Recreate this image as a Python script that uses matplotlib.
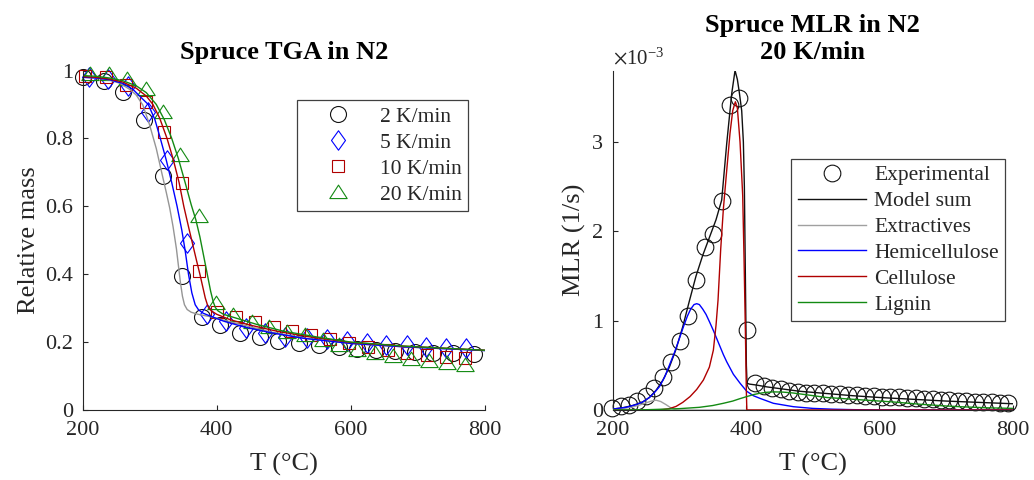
import matplotlib
matplotlib.use('Agg')
import matplotlib.pyplot as plt
from matplotlib.path import Path

plt.rcParams['font.family'] = ['Liberation Serif', 'DejaVu Serif']
plt.rcParams['mathtext.fontset'] = 'stix'

# ---------------- Left panel data: TGA ----------------
rate_labels = ['2 K/min', '5 K/min', '10 K/min', '20 K/min']

# experimental markers
t_2k = [200, 232, 261, 291, 320, 349, 378, 405, 435, 465, 492, 522, 552, 582, 609, 638, 666, 696, 723, 753, 783]
m_2k = [0.982, 0.968, 0.938, 0.855, 0.688, 0.394, 0.274, 0.25, 0.227, 0.214, 0.203, 0.196, 0.191, 0.186,
        0.181, 0.176, 0.174, 0.172, 0.169, 0.167, 0.165]
t_5k = [209, 238, 268, 297, 326, 356, 385, 414, 443, 472, 502, 534, 564, 594, 624, 653, 683, 712, 742, 772]
m_5k = [0.98, 0.975, 0.955, 0.877, 0.735, 0.492, 0.284, 0.262, 0.242, 0.226, 0.215, 0.212, 0.209, 0.202,
        0.197, 0.192, 0.19, 0.187, 0.184, 0.182]
t_10k = [204, 235, 265, 294, 321, 348, 374, 401, 429, 457, 485, 513, 541, 569, 598, 626, 655, 684, 713, 742, 770]
m_10k = [0.985, 0.98, 0.958, 0.906, 0.82, 0.668, 0.41, 0.29, 0.275, 0.26, 0.245, 0.232, 0.22, 0.208, 0.196,
         0.185, 0.176, 0.168, 0.162, 0.157, 0.152]
t_20k = [211, 239, 266, 294, 320, 346, 373, 399, 425, 452, 478, 505, 532, 558, 583, 609, 636, 663, 690, 716, 743, 770]
m_20k = [0.99, 0.99, 0.975, 0.946, 0.877, 0.75, 0.57, 0.315, 0.28, 0.26, 0.245, 0.23, 0.22, 0.205, 0.19,
         0.178, 0.167, 0.158, 0.15, 0.143, 0.137, 0.132]

# model curves
ft_2k = [200, 220, 240, 255, 270, 280, 290, 300, 310, 318, 325, 330, 335, 340, 343, 346, 349, 352, 356, 362,
         372, 390, 410, 440, 480, 530, 600, 680, 800]
fm_2k = [0.98, 0.978, 0.972, 0.963, 0.945, 0.928, 0.898, 0.84, 0.77, 0.70, 0.64, 0.595, 0.54, 0.475, 0.425,
         0.375, 0.335, 0.31, 0.296, 0.288, 0.282, 0.275, 0.265, 0.25, 0.23, 0.212, 0.196, 0.186, 0.175]
ft_5k = [200, 220, 240, 260, 275, 285, 298, 308, 316, 325, 333, 341, 348, 353, 358, 363, 368, 373, 380, 390,
         410, 440, 480, 530, 600, 680, 800]
fm_5k = [0.98, 0.978, 0.973, 0.962, 0.945, 0.925, 0.90, 0.855, 0.80, 0.735, 0.67, 0.60, 0.53, 0.47, 0.40,
         0.345, 0.31, 0.295, 0.285, 0.277, 0.262, 0.245, 0.228, 0.211, 0.196, 0.186, 0.175]
ft_10k = [200, 220, 240, 260, 280, 295, 305, 315, 326, 335, 344, 351, 358, 364, 370, 375, 379, 383, 387, 392,
          400, 420, 450, 490, 540, 600, 680, 800]
fm_10k = [0.982, 0.98, 0.975, 0.966, 0.948, 0.925, 0.90, 0.86, 0.80, 0.74, 0.67, 0.60, 0.54, 0.49, 0.44,
          0.40, 0.365, 0.33, 0.305, 0.292, 0.282, 0.266, 0.25, 0.232, 0.215, 0.199, 0.188, 0.176]
ft_20k = [200, 220, 240, 260, 280, 295, 310, 322, 333, 343, 353, 362, 369, 375, 381, 386, 391, 395, 398, 402,
          410, 430, 460, 500, 550, 600, 680, 800]
fm_20k = [0.985, 0.983, 0.978, 0.97, 0.955, 0.935, 0.90, 0.855, 0.80, 0.74, 0.67, 0.605, 0.56, 0.51, 0.45,
          0.40, 0.35, 0.318, 0.302, 0.292, 0.282, 0.27, 0.252, 0.232, 0.215, 0.2, 0.188, 0.176]

# ---------------- Right panel data: MLR (x 1e-3 1/s) ----------------
t_exp = [199, 211.7, 224.3, 237, 249.6, 262.3, 274.9, 287.6, 300.2, 312.9, 325.5, 338.2, 350.8, 363.5, 376.1,
         388.8, 401.4, 414.1, 426.7, 439.4, 452, 464.7, 477.3, 490, 502.6, 515.3, 527.9, 540.6, 553.2, 565.9,
         578.5, 591.2, 603.8, 616.5, 629.1, 641.8, 654.4, 667.1, 679.7, 692.4, 705, 717.7, 730.3, 743, 755.6,
         768.3, 780.9, 793.6]
mlr_exp = [0.02, 0.04, 0.056, 0.10, 0.16, 0.25, 0.365, 0.54, 0.77, 1.05, 1.45, 1.825, 1.975, 2.34, 3.41, 3.49,
           0.90, 0.30, 0.265, 0.245, 0.23, 0.215, 0.205, 0.195, 0.19, 0.185, 0.18, 0.175, 0.17, 0.165, 0.16,
           0.155, 0.15, 0.145, 0.14, 0.135, 0.13, 0.125, 0.12, 0.115, 0.11, 0.105, 0.10, 0.095, 0.09, 0.085,
           0.08, 0.075]

t_sum = [200, 215, 230, 245, 255, 265, 275, 285, 295, 305, 315, 325, 335, 345, 355, 363.5, 371, 378.5, 383.5,
         387, 390, 393.5, 396, 397.5, 399, 400.5, 401.5, 405, 415, 430, 450, 480, 520, 560, 600, 650, 700, 750, 800]
mlr_sum = [0.01, 0.025, 0.05, 0.09, 0.14, 0.22, 0.33, 0.48, 0.68, 0.93, 1.22, 1.5, 1.73, 1.93, 2.13, 2.35,
           2.98, 3.54, 3.80, 3.7, 3.55, 3.35, 3.0, 2.5, 1.5, 0.5, 0.3, 0.29, 0.28, 0.26, 0.24, 0.21, 0.185,
           0.16, 0.14, 0.12, 0.10, 0.085, 0.07]

t_ext = [200, 215, 230, 240, 250, 258, 265, 272, 280, 287, 293, 300, 800]
mlr_ext = [0.005, 0.015, 0.035, 0.055, 0.08, 0.10, 0.11, 0.095, 0.06, 0.025, 0.005, 0.0, 0.0]

t_hem = [200, 220, 235, 245, 255, 262, 270, 278, 285, 293, 300, 306, 312, 317, 322, 326, 330, 335, 340, 345,
         351, 356, 361, 366, 371, 376, 381, 391, 401, 411, 421, 441, 471, 500, 530, 560, 600, 800]
mlr_hem = [0.01, 0.03, 0.06, 0.09, 0.14, 0.19, 0.26, 0.37, 0.5, 0.65, 0.8, 0.93, 1.05, 1.13, 1.18, 1.19,
           1.18, 1.13, 1.07, 0.99, 0.89, 0.80, 0.71, 0.62, 0.54, 0.47, 0.40, 0.30, 0.21, 0.16, 0.13, 0.075,
           0.037, 0.018, 0.009, 0.004, 0.001, 0.0]

t_cel = [200, 260, 275, 285, 295, 305, 316, 326, 336, 345, 351, 355, 358, 362, 366, 371, 376, 380, 384, 387,
         391, 395, 397, 399, 400.5, 401.2, 450, 800]
mlr_cel = [0.0, 0.0, 0.005, 0.015, 0.04, 0.085, 0.15, 0.23, 0.335, 0.48, 0.67, 0.95, 1.23, 1.8, 2.25, 2.68,
           3.1, 3.35, 3.45, 3.38, 3.0, 2.4, 1.7, 0.9, 0.2, 0.0, 0.0, 0.0]

t_lig = [200, 250, 300, 330, 350, 366, 380, 390, 401, 411, 421, 431, 441, 456, 471, 491, 521, 560, 600, 621,
         660, 700, 721, 760, 800]
mlr_lig = [0.0, 0.003, 0.015, 0.03, 0.05, 0.075, 0.1, 0.125, 0.15, 0.172, 0.188, 0.198, 0.203, 0.2, 0.19,
           0.17, 0.14, 0.12, 0.10, 0.09, 0.065, 0.045, 0.037, 0.025, 0.018]

comp_labels = ['Experimental', 'Model sum', 'Extractives', 'Hemicellulose', 'Cellulose', 'Lignin']

x_ticks = [200, 400, 600, 800]
x_ticklabels = ['200', '400', '600', '800']
y1_ticks = [0, 0.2, 0.4, 0.6, 0.8, 1.0]
y1_ticklabels = ['0', '0.2', '0.4', '0.6', '0.8', '1']
y2_ticks = [0, 1, 2, 3]
y2_ticklabels = ['0', '1', '2', '3']

# ---------------- Styling ----------------
TXT = '#262626'
C_GRAY = '#959595'
C_BLK = '#111111'
C_BLUE = '#0000ff'
C_RED = '#b00000'
C_GREEN = '#138a13'

diamond = Path([(0, 1), (0.72, 0), (0, -1), (-0.72, 0), (0, 1)],
               [Path.MOVETO, Path.LINETO, Path.LINETO, Path.LINETO, Path.CLOSEPOLY])
triangle = Path([(0, 0.85), (1, -0.7), (-1, -0.7), (0, 0.85)],
                [Path.MOVETO, Path.LINETO, Path.LINETO, Path.CLOSEPOLY])

W, H = 1034, 480
fig = plt.figure(figsize=(W / 100, H / 100), dpi=100)
ax1 = fig.add_axes([82.5 / W, 70 / H, 402.5 / W, 339.5 / H])
ax2 = fig.add_axes([612.7 / W, 70 / H, 400 / W, 339.5 / H])


def style_axes(ax):
    for s in ['top', 'right']:
        ax.spines[s].set_visible(False)
    for s in ['left', 'bottom']:
        ax.spines[s].set_color(TXT)
        ax.spines[s].set_linewidth(0.8)
    ax.tick_params(direction='in', length=3.5, width=0.8, colors=TXT, labelsize=16)
    ax.tick_params(axis='x', pad=8)
    ax.tick_params(axis='y', pad=7)


leg_kw = dict(fontsize=15.5, frameon=True, fancybox=False, framealpha=1, edgecolor='#404040',
              borderpad=0.3, labelspacing=0.27, handlelength=3.2, handletextpad=0.35,
              borderaxespad=0, numpoints=1)

# ---- left ----
mk = dict(linestyle='none', markerfacecolor='none', markeredgewidth=0.8, clip_on=False)
h1, = ax1.plot(t_2k, m_2k, marker='o', markersize=11.5, markeredgecolor=C_BLK, **mk)
h2, = ax1.plot(t_5k, m_5k, marker=diamond, markersize=14, markeredgecolor=C_BLUE, **mk)
h3, = ax1.plot(t_10k, m_10k, marker='s', markersize=9, markeredgecolor=C_RED, **mk)
h4, = ax1.plot(t_20k, m_20k, marker=triangle, markersize=12.5, markeredgecolor=C_GREEN, **mk)
ax1.plot(ft_2k, fm_2k, color=C_GRAY, lw=1.0)
ax1.plot(ft_5k, fm_5k, color=C_BLUE, lw=1.0)
ax1.plot(ft_10k, fm_10k, color=C_RED, lw=1.0)
ax1.plot(ft_20k, fm_20k, color=C_GREEN, lw=1.0)

ax1.set_xlim(200, 800)
ax1.set_ylim(0, 1)
ax1.set_xticks(x_ticks, x_ticklabels)
ax1.set_yticks(y1_ticks, y1_ticklabels)
style_axes(ax1)
ax1.set_xlabel('T (°C)', fontsize=19, color=TXT)
ax1.set_ylabel('Relative mass', fontsize=19, color=TXT)
ax1.xaxis.set_label_coords(0.5, -0.125)
ax1.yaxis.set_label_coords(-0.105, 0.5)
ax1.set_title('Spruce TGA in N2', fontsize=19, fontweight='bold', pad=8)

leg1 = ax1.legend([h1, h2, h3, h4], rate_labels, loc='upper left', bbox_to_anchor=(0.533, 0.912), **leg_kw)
leg1.get_frame().set_linewidth(0.9)
for t in leg1.get_texts():
    t.set_color(TXT)

# ---- right ----
he, = ax2.plot(t_exp, mlr_exp, marker='o', markersize=12, markeredgecolor=C_BLK, zorder=2, **mk)
hs, = ax2.plot(t_sum, mlr_sum, color=C_BLK, lw=1.0, zorder=3)
hx, = ax2.plot(t_ext, mlr_ext, color='#a0a0a0', lw=1.0, zorder=3)
hh, = ax2.plot(t_hem, mlr_hem, color=C_BLUE, lw=1.0, zorder=3)
hc, = ax2.plot(t_cel, mlr_cel, color=C_RED, lw=1.0, zorder=3)
hl, = ax2.plot(t_lig, mlr_lig, color=C_GREEN, lw=1.0, zorder=3)

ax2.set_xlim(200, 800)
ax2.set_ylim(0, 3.8)
ax2.set_xticks(x_ticks, x_ticklabels)
ax2.set_yticks(y2_ticks, y2_ticklabels)
style_axes(ax2)
ax2.set_xlabel('T (°C)', fontsize=19, color=TXT)
ax2.set_ylabel('MLR (1/s)', fontsize=19, color=TXT)
ax2.xaxis.set_label_coords(0.5, -0.125)
ax2.yaxis.set_label_coords(-0.068, 0.5)
ax2.set_title('Spruce MLR in N2\n20 K/min', fontsize=19, fontweight='bold', pad=8, linespacing=1.25)
ax2.text(0.0, 1.004, r'$\times\mathregular{10^{-3}}$', transform=ax2.transAxes, ha='left', va='bottom',
         fontsize=15, color=TXT)

leg2 = ax2.legend([he, hs, hx, hh, hc, hl], comp_labels, loc='upper left', bbox_to_anchor=(0.446, 0.740),
                  **leg_kw)
leg2.get_frame().set_linewidth(0.9)
for t in leg2.get_texts():
    t.set_color(TXT)

fig.savefig('out.png', dpi=100)
